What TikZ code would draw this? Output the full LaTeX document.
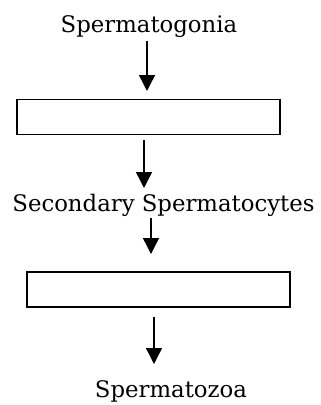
\documentclass[tikz,border=0pt]{standalone}
\usepackage{fontspec}
\setmainfont{DejaVu Serif}
\usetikzlibrary{arrows.meta}
\begin{document}
\begin{tikzpicture}[x=1pt,y=-1pt,
  lbl/.style={inner sep=0pt,font=\fontsize{22.8}{26}\selectfont},
  stage/.style={draw,line width=1.8pt,inner sep=0pt,minimum width=263pt,minimum height=35pt},
  flow/.style={line width=1.4pt,-{Triangle[width=16pt,length=16pt]}}]
\useasboundingbox (0,0) rectangle (321,405);
\node[lbl,anchor=base] (t1) at (149,32) {Spermatogonia};
\node[stage] (b1) at (148.5,117) {};
\node[lbl,anchor=base] (t2) at (163.5,211) {Secondary Spermatocytes};
\node[stage] (b2) at (158.5,289.5) {};
\node[lbl,anchor=base] (t3) at (171,397) {Spermatozoa};
\coordinate (a1s) at (147,41); \coordinate (a1e) at (147,91);
\coordinate (a2s) at (144,140); \coordinate (a2e) at (144,188);
\coordinate (a3s) at (151,218); \coordinate (a3e) at (151,254);
\coordinate (a4s) at (154,317); \coordinate (a4e) at (154,364);
\draw[flow] (a1s) -- (a1e);
\draw[flow] (a2s) -- (a2e);
\draw[flow] (a3s) -- (a3e);
\draw[flow] (a4s) -- (a4e);
\end{tikzpicture}
\end{document}
